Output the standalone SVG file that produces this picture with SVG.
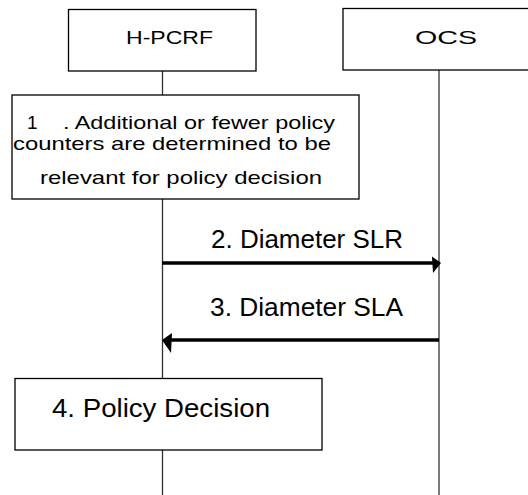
<svg xmlns="http://www.w3.org/2000/svg" width="528" height="495" viewBox="0 0 528 495">
<style>
.box{fill:#fff;stroke:#000;stroke-width:1.3}
.life{fill:none;stroke:#333;stroke-width:1.3}
.msg{fill:none;stroke:#000;stroke-width:3.5}
.head{fill:#000}
text{font-family:"Liberation Sans",Arial,sans-serif;fill:#000}
.t1{font-size:19px}
.t2{font-size:26px}
</style>
<rect width="528" height="495" fill="#fff"/>
<g id="connectors">
<line class="life" x1="162.5" y1="71" x2="162.5" y2="495"/>
<line class="life" x1="439" y1="70" x2="439" y2="495" stroke="#777"/>
<line class="msg" x1="162" y1="263" x2="434" y2="263"/>
<polygon class="head" points="441,263 432,256.5 433,273"/>
<line class="msg" x1="439" y1="340" x2="170" y2="340"/>
<polygon class="head" points="162,340 172,333 171,353"/>
<text class="t2" x="211" y="248" textLength="192" lengthAdjust="spacingAndGlyphs">2. Diameter SLR</text>
<text class="t2" x="210" y="316" textLength="193" lengthAdjust="spacingAndGlyphs">3. Diameter SLA</text>
</g>
<g id="hpcrf">
<rect class="box" x="68.5" y="9.5" width="187.5" height="61.5"/>
<text class="t1" x="126" y="44" textLength="87" lengthAdjust="spacingAndGlyphs">H-PCRF</text>
</g>
<g id="ocs">
<rect class="box" x="343" y="8.5" width="190" height="61.5"/>
<text class="t1" x="415" y="44" textLength="62" lengthAdjust="spacingAndGlyphs">OCS</text>
</g>
<g id="step1">
<rect class="box" x="12" y="95" width="347" height="104"/>
<text class="t1" x="27" y="129">1</text>
<text class="t1" x="63" y="129" textLength="272" lengthAdjust="spacingAndGlyphs">. Additional or fewer policy</text>
<text class="t1" x="13" y="150" textLength="318" lengthAdjust="spacingAndGlyphs">counters are determined to be</text>
<text class="t1" x="40" y="184" textLength="282" lengthAdjust="spacingAndGlyphs">relevant for policy decision</text>
</g>
<g id="step4">
<rect class="box" x="15" y="378.5" width="307" height="71.5"/>
<text class="t2" x="52" y="417" textLength="218" lengthAdjust="spacingAndGlyphs">4. Policy Decision</text>
</g>
</svg>
